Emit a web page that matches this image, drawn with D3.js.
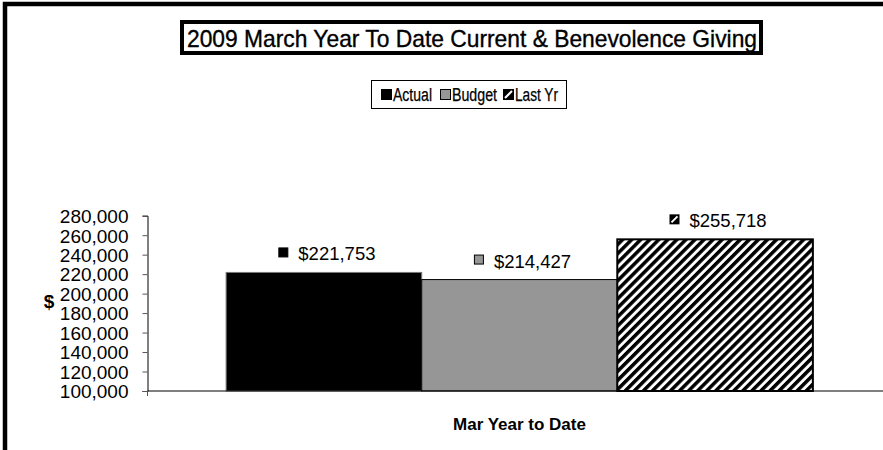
<!DOCTYPE html>
<html>
<head>
<meta charset="utf-8">
<script src="https://cdn.jsdelivr.net/npm/d3@7"></script>
<style>
  html, body { margin: 0; padding: 0; background: #fff; }
  svg { display: block; font-family: "Liberation Sans", Arial, sans-serif; }
</style>
</head>
<body>
<div id="chart"></div>
<script>
const categories = ["Mar Year to Date"]
const seriesNames = ["Actual", "Budget", "Last Yr"]
const seriesValues = [221753, 214427, 255718]
const yTickValues = [100000, 120000, 140000, 160000, 180000, 200000, 220000, 240000, 260000, 280000]
const titleText = "2009 March Year To Date Current & Benevolence Giving"
const yAxisTitle = "$"

const width = 883
const height = 450
const plot = { left: 147.5, right: 891.5, top: 215.7, bottom: 391 }

const svg = d3.select("#chart").append("svg")
    .attr("width", width)
    .attr("height", height)

// hatch pattern for last year
const defs = svg.append("defs")
const hatch = defs.append("pattern")
    .attr("id", "hatch")
    .attr("patternUnits", "userSpaceOnUse")
    .attr("width", 6.4)
    .attr("height", 6.4)
    .attr("patternTransform", "rotate(45)")
hatch.append("rect").attr("width", 6.4).attr("height", 6.4).attr("fill", "#fff")
hatch.append("rect").attr("width", 3.5).attr("height", 6.4).attr("fill", "#000")

// outer frame (runs off the right and bottom edge)
svg.append("rect")
    .attr("x", 5).attr("y", 4)
    .attr("width", 1000).attr("height", 600)
    .attr("fill", "none")
    .attr("stroke", "#000")
    .attr("stroke-width", 4.5)

// scales
const x0 = d3.scaleBand()
    .domain(categories)
    .range([plot.left, plot.right])
    .paddingInner(0)
    .paddingOuter(0.134)

const x1 = d3.scaleBand()
    .domain(seriesNames)
    .range([0, x0.bandwidth()])

const y = d3.scaleLinear()
    .domain([100000, 280000])
    .range([plot.bottom, plot.top])

const fills = { "Actual": "#000", "Budget": "#969696", "Last Yr": "url(#hatch)" }

// small legend / label keys
const drawKey = (g, name, kx, ky, s) => {
    if (name === "Last Yr") {
        g.append("rect").attr("x", kx).attr("y", ky).attr("width", s).attr("height", s).attr("fill", "#000")
        g.append("line")
            .attr("x1", kx + 2).attr("y1", ky + s - 2)
            .attr("x2", kx + s - 2).attr("y2", ky + 2)
            .attr("stroke", "#fff").attr("stroke-width", 2)
    } else {
        g.append("rect")
            .attr("x", kx + 0.5).attr("y", ky + 0.5)
            .attr("width", s - 1).attr("height", s - 1)
            .attr("fill", fills[name])
            .attr("stroke", "#000").attr("stroke-width", 1)
    }
}

// y axis
const yAxis = svg.append("g")
    .attr("transform", `translate(${plot.left},0)`)
    .call(d3.axisLeft(y).tickValues(yTickValues).tickSize(5).tickPadding(14).tickFormat(d3.format(",")))
yAxis.select(".domain").attr("stroke", "#000")
yAxis.selectAll(".tick line").attr("stroke", "#555")
yAxis.selectAll(".tick text")
    .attr("fill", "#000")
    .style("font-size", "19px")
    .style("font-family", "Liberation Sans, Arial, sans-serif")
    .attr("dy", "0.36em")

svg.append("text")
    .attr("x", 49).attr("y", 308)
    .attr("text-anchor", "middle")
    .style("font-size", "19px")
    .style("font-weight", "bold")
    .text(yAxisTitle)

// bars
const group = svg.append("g")
    .attr("transform", `translate(${x0(categories[0])},0)`)

group.selectAll("rect.bar")
    .data(seriesValues)
    .join("rect")
    .attr("class", "bar")
    .attr("x", (d, i) => x1(seriesNames[i]))
    .attr("y", d => y(d))
    .attr("width", x1.bandwidth())
    .attr("height", d => y(100000) - y(d))
    .attr("fill", (d, i) => fills[seriesNames[i]])
    .attr("stroke", (d, i) => i === 0 ? "#777" : "#000")
    .attr("stroke-width", (d, i) => i === 2 ? 2 : 1)

// x axis line and end tick
svg.append("line")
    .attr("x1", plot.left).attr("x2", width)
    .attr("y1", plot.bottom).attr("y2", plot.bottom)
    .attr("stroke", "#000").attr("stroke-width", 1.2)
svg.append("line")
    .attr("x1", plot.left).attr("x2", plot.left)
    .attr("y1", plot.bottom).attr("y2", plot.bottom + 5)
    .attr("stroke", "#555")

svg.append("text")
    .attr("x", x0(categories[0]) + x0.bandwidth() / 2)
    .attr("y", 430)
    .attr("text-anchor", "middle")
    .style("font-size", "17px")
    .style("font-weight", "bold")
    .text(categories[0])

// data labels with key squares
seriesValues.forEach((v, i) => {
    const cx = x0(categories[0]) + x1(seriesNames[i]) + x1.bandwidth() / 2 + 3
    const g = svg.append("g")
    const t = g.append("text")
        .attr("y", y(v) - 12)
        .style("font-size", "18.5px")
        .text("$" + d3.format(",")(v))
    const tw = t.node().getComputedTextLength()
    const total = 10 + 10 + tw
    const left = cx - total / 2
    t.attr("x", left + 20)
    drawKey(g, seriesNames[i], left, y(v) - 25, 10)
})

// title box
svg.append("rect")
    .attr("x", 182).attr("y", 22)
    .attr("width", 579).attr("height", 31)
    .attr("fill", "#fff")
    .attr("stroke", "#000")
    .attr("stroke-width", 4)
svg.append("text")
    .attr("x", 187).attr("y", 46.5)
    .attr("textLength", 570)
    .attr("lengthAdjust", "spacingAndGlyphs")
    .style("font-size", "24px")
    .attr("stroke", "#000")
    .attr("stroke-width", 0.35)
    .text(titleText)

// legend
const legend = svg.append("g")
legend.append("rect")
    .attr("x", 371.5).attr("y", 80.5)
    .attr("width", 195).attr("height", 28)
    .attr("fill", "#fff")
    .attr("stroke", "#000")
const legendX = [381, 440, 503]
const legendW = [39, 45, 43]
seriesNames.forEach((name, i) => {
    drawKey(legend, name, legendX[i], 89, 11)
    legend.append("text")
        .attr("x", legendX[i] + 12).attr("y", 100.5)
        .attr("textLength", legendW[i])
        .attr("lengthAdjust", "spacingAndGlyphs")
        .style("font-size", "18px")
        .attr("stroke", "#000")
        .attr("stroke-width", 0.25)
        .text(name)
})
</script>
</body>
</html>
